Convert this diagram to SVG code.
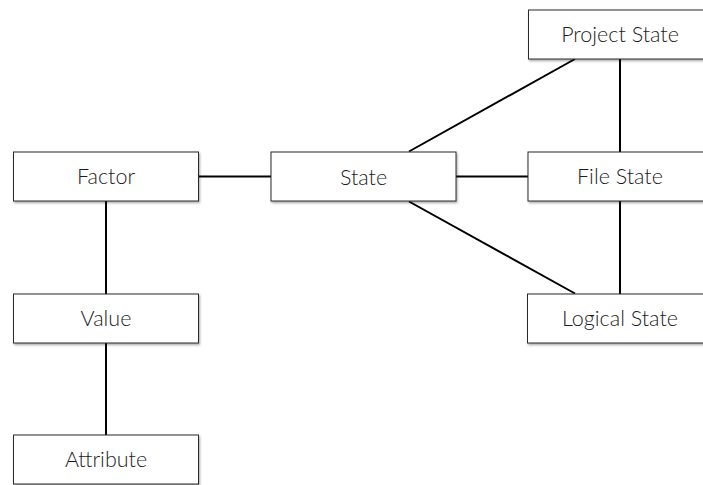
<svg xmlns="http://www.w3.org/2000/svg" width="703" height="485" viewBox="0 0 703 485">
  <defs>
    <filter id="shadow" x="-5%" y="-10%" width="115%" height="130%">
      <feDropShadow dx="1" dy="1.5" stdDeviation="0.8" flood-color="#000" flood-opacity="0.35"/>
    </filter>
  </defs>
  <style>
    .box { fill: #ffffff; stroke: #2b2b2b; stroke-width: 1; filter: url(#shadow); }
    .label { font-family: Lato, "Open Sans", sans-serif; font-size: 21.5px; font-weight: 300; fill: #1c1c1c; text-anchor: middle; dominant-baseline: central; }
    .edge { stroke: #000; stroke-width: 2; fill: none; }
  </style>
  <rect width="703" height="485" fill="#ffffff"/>

  <g id="connectors">
    <line class="edge" x1="199" y1="176.5" x2="271" y2="176.5"/>
    <line class="edge" x1="456" y1="176.5" x2="528" y2="176.5"/>
    <line class="edge" x1="106" y1="201" x2="106" y2="294"/>
    <line class="edge" x1="106" y1="343" x2="106" y2="435"/>
    <line class="edge" x1="409" y1="151.5" x2="575" y2="59"/>
    <line class="edge" x1="409" y1="201.5" x2="575" y2="293.5"/>
    <line class="edge" x1="620" y1="59" x2="620" y2="152"/>
    <line class="edge" x1="620" y1="201" x2="620" y2="294"/>
  </g>

  <g id="factor">
    <rect class="box" x="13.5" y="152" width="185" height="49"/>
    <text class="label" x="106" y="175.5">Factor</text>
  </g>
  <g id="value">
    <rect class="box" x="13.5" y="294" width="185" height="49"/>
    <text class="label" x="106" y="318">Value</text>
  </g>
  <g id="attribute">
    <rect class="box" x="13.5" y="435" width="185" height="49"/>
    <text class="label" x="106" y="459">Attribute</text>
  </g>
  <g id="state">
    <rect class="box" x="271" y="152" width="185" height="49"/>
    <text class="label" x="363.5" y="176.5">State</text>
  </g>
  <g id="project-state">
    <rect class="box" x="528.5" y="10" width="185" height="49"/>
    <text class="label" x="620" y="34">Project State</text>
  </g>
  <g id="file-state">
    <rect class="box" x="528" y="152" width="185" height="49"/>
    <text class="label" x="620" y="175.5">File State</text>
  </g>
  <g id="logical-state">
    <rect class="box" x="527.5" y="294" width="185" height="49"/>
    <text class="label" x="620" y="318">Logical State</text>
  </g>
</svg>
